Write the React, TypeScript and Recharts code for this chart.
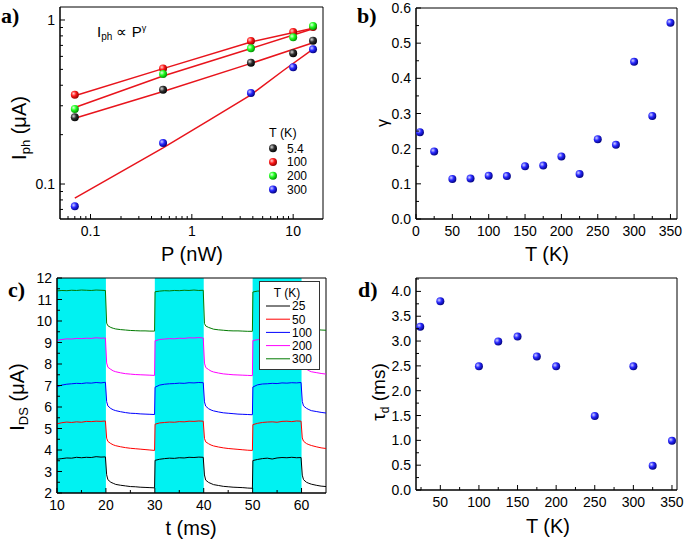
import React from "react";
import {
  ScatterChart, Scatter, LineChart, Line, XAxis, YAxis, ReferenceArea, Legend,
} from "recharts";

const FONT = "Arial, 'Liberation Sans', Helvetica, sans-serif";
const SERIF = "'Times New Roman', 'Liberation Serif', serif";

// ---- a) photocurrent vs laser power (log-log)
const powerNW = [0.07, 0.52, 3.83, 10, 15.7];
const iph5K = [0.255, 0.375, 0.549, 0.627, 0.748];
const iph100K = [0.35, 0.507, 0.745, 0.845, 0.905];
const iph200K = [0.287, 0.469, 0.672, 0.784, 0.919];
const iph300K = [0.0731, 0.178, 0.359, 0.515, 0.663];
const fitPower = [0.07, 0.52, 3.83, 15.7];
const fit5K = [0.252, 0.366, 0.544, 0.727];
const fit100K = [0.345, 0.505, 0.735, 0.89];
const fit200K = [0.293, 0.456, 0.67, 0.885];
const fitPower300 = [0.07, 0.52, 1.5, 3.83, 8, 15.7];
const fit300K = [0.082, 0.166, 0.246, 0.35, 0.492, 0.665];
const legendA = ["5.4", "100", "200", "300"];
const aTicksX = [0.06, 0.07, 0.08, 0.09, 0.1, 0.2, 0.3, 0.4, 0.5, 0.6, 0.7, 0.8, 0.9, 1, 2, 3, 4, 5, 6, 7, 8, 9, 10];
const aMajorX = [0.1, 1, 10];
const aTicksY = [0.07, 0.08, 0.09, 0.1, 0.2, 0.3, 0.4, 0.5, 0.6, 0.7, 0.8, 0.9, 1];
const aMajorY = [0.1, 1];

// ---- b) exponent gamma vs temperature
const tempB = [5.4, 25, 50, 75, 100, 125, 150, 175, 200, 225, 250, 275, 300, 325, 350];
const gammaB = [0.247, 0.192, 0.114, 0.115, 0.123, 0.122, 0.15, 0.152, 0.178, 0.128, 0.227, 0.211, 0.447, 0.293, 0.558];
const bTicksX = [0, 25, 50, 75, 100, 125, 150, 175, 200, 225, 250, 275, 300, 325, 350];
const bMajorX = [0, 50, 100, 150, 200, 250, 300, 350];
const bTicksY = [0, 0.05, 0.1, 0.15, 0.2, 0.25, 0.3, 0.35, 0.4, 0.45, 0.5, 0.55, 0.6];
const bMajorY = [0, 0.1, 0.2, 0.3, 0.4, 0.5, 0.6];

// ---- c) switching traces
const timeMs = [
  10, 11, 12, 13, 14, 15, 16, 17, 18, 19, 19.9,
  20.15, 20.4, 21, 21.5, 22, 23, 24, 25, 26, 27, 28, 29, 29.95,
  30.05, 31, 32, 33, 34, 35, 36, 37, 38, 39, 39.9,
  40.15, 40.4, 41, 41.5, 42, 43, 44, 45, 46, 47, 48, 49, 49.95,
  50.05, 51, 52, 53, 54, 55, 56, 57, 58, 59, 59.9,
  60.15, 60.4, 61, 61.5, 62, 63, 64, 65,
];
const ids25 = [
  3.57, 3.6, 3.63, 3.62, 3.66, 3.64, 3.66, 3.65, 3.69, 3.67, 3.68,
  2.85, 2.62, 2.5, 2.45, 2.4, 2.36, 2.33, 2.3, 2.29, 2.27, 2.26, 2.25, 2.24,
  3.52, 3.57, 3.6, 3.62, 3.61, 3.64, 3.63, 3.66, 3.65, 3.67, 3.66,
  2.84, 2.6, 2.49, 2.44, 2.39, 2.35, 2.31, 2.29, 2.27, 2.26, 2.25, 2.23, 2.22,
  3.51, 3.56, 3.6, 3.62, 3.58, 3.63, 3.65, 3.64, 3.66, 3.64, 3.65,
  2.83, 2.62, 2.5, 2.45, 2.41, 2.36, 2.32, 2.3,
];
const ids50 = [
  5.22, 5.27, 5.3, 5.28, 5.31, 5.29, 5.33, 5.32, 5.34, 5.33, 5.35,
  4.55, 4.4, 4.3, 4.24, 4.2, 4.15, 4.11, 4.08, 4.06, 4.04, 4.02, 4.0, 3.98,
  5.2, 5.26, 5.28, 5.3, 5.29, 5.32, 5.31, 5.34, 5.33, 5.35, 5.34,
  4.54, 4.38, 4.29, 4.23, 4.19, 4.14, 4.1, 4.07, 4.05, 4.03, 4.01, 3.99, 3.98,
  5.18, 5.24, 5.28, 5.3, 5.31, 5.29, 5.33, 5.34, 5.32, 5.35, 5.34,
  4.56, 4.41, 4.3, 4.25, 4.21, 4.15, 4.1, 4.07,
];
const ids100 = [
  6.95, 7.02, 7.06, 7.08, 7.1, 7.09, 7.12, 7.11, 7.14, 7.12, 7.15,
  6.25, 6.05, 5.93, 5.87, 5.83, 5.78, 5.74, 5.71, 5.7, 5.68, 5.67, 5.66, 5.65,
  6.92, 7.02, 7.06, 7.08, 7.09, 7.11, 7.1, 7.13, 7.12, 7.14, 7.13,
  6.24, 6.04, 5.92, 5.86, 5.82, 5.77, 5.73, 5.71, 5.69, 5.67, 5.66, 5.65, 5.64,
  6.93, 7.03, 7.07, 7.08, 7.1, 7.09, 7.12, 7.11, 7.13, 7.12, 7.14,
  6.26, 6.05, 5.94, 5.88, 5.83, 5.79, 5.75, 5.72,
];
const ids200 = [
  9.1, 9.14, 9.17, 9.16, 9.19, 9.18, 9.2, 9.19, 9.22, 9.2, 9.21,
  8.05, 7.85, 7.75, 7.68, 7.64, 7.59, 7.55, 7.53, 7.51, 7.5, 7.49, 7.48, 7.47,
  9.08, 9.14, 9.16, 9.18, 9.17, 9.2, 9.19, 9.22, 9.21, 9.23, 9.21,
  8.04, 7.84, 7.74, 7.67, 7.63, 7.58, 7.54, 7.52, 7.5, 7.49, 7.48, 7.47, 7.46,
  9.09, 9.13, 9.16, 9.17, 9.19, 9.18, 9.2, 9.19, 9.21, 9.2, 9.22,
  8.06, 7.86, 7.76, 7.69, 7.64, 7.6, 7.56, 7.53,
];
const ids300 = [
  11.4, 11.42, 11.41, 11.43, 11.42, 11.44, 11.43, 11.42, 11.44, 11.43, 11.42,
  9.9, 9.78, 9.7, 9.66, 9.63, 9.6, 9.58, 9.56, 9.55, 9.54, 9.54, 9.53, 9.53,
  11.36, 11.39, 11.41, 11.4, 11.42, 11.41, 11.43, 11.42, 11.44, 11.42, 11.43,
  9.89, 9.77, 9.7, 9.66, 9.62, 9.59, 9.57, 9.55, 9.54, 9.54, 9.53, 9.52, 9.52,
  11.35, 11.39, 11.4, 11.42, 11.41, 11.43, 11.42, 11.44, 11.43, 11.42, 11.43,
  9.9, 9.78, 9.71, 9.67, 9.64, 9.6, 9.58, 9.57,
];
const lightOn = [[10, 20], [30, 40], [50, 60]];
const legendC = ["25", "50", "100", "200", "300"];
const cTicksX = [10, 15, 20, 25, 30, 35, 40, 45, 50, 55, 60];
const cMajorX = [10, 20, 30, 40, 50, 60];
const cTicksY = [2, 2.5, 3, 3.5, 4, 4.5, 5, 5.5, 6, 6.5, 7, 7.5, 8, 8.5, 9, 9.5, 10, 10.5, 11, 11.5, 12];
const cMajorY = [2, 3, 4, 5, 6, 7, 8, 9, 10, 11, 12];

// ---- d) decay time vs temperature
const tempD = [24, 50, 100, 125, 150, 175, 200, 250, 300, 325, 350];
const tauD = [3.29, 3.8, 2.49, 2.99, 3.09, 2.69, 2.49, 1.49, 2.49, 0.49, 0.99];
const dTicksX = [25, 50, 75, 100, 125, 150, 175, 200, 225, 250, 275, 300, 325, 350];
const dMajorX = [50, 100, 150, 200, 250, 300, 350];
const dTicksY = [0, 0.25, 0.5, 0.75, 1, 1.25, 1.5, 1.75, 2, 2.25, 2.5, 2.75, 3, 3.25, 3.5, 3.75, 4, 4.25];
const dMajorY = [0, 0.5, 1, 1.5, 2, 2.5, 3, 3.5, 4];

const BALLS: Record<string, string[]> = {
  ballK: ["#d8d8d8", "#303030", "#000000"],
  ballR: ["#ffd0d0", "#ff1818", "#8a0000"],
  ballG: ["#e0ffe0", "#22ff22", "#008a00"],
  ballB: ["#d0d0ff", "#2828ff", "#000078"],
};
const aSeries = [
  { y: iph5K, ball: "ballK" },
  { y: iph100K, ball: "ballR" },
  { y: iph200K, ball: "ballG" },
  { y: iph300K, ball: "ballB" },
];
const cColors = ["#000000", "#ff0000", "#0000ff", "#ff00ff", "#007a00"];

const near = (list: number[], v: number) => list.some(m => Math.abs(m - v) < 1e-9);

const makeTick = (side: "bottom" | "left", majors: number[], fmt: (v: number) => string) =>
  (props: any) => {
    const { x, y, payload } = props;
    const v = payload.value;
    const major = near(majors, v);
    const len = major ? 5 : 3;
    if (side === "bottom") {
      return (
        <g>
          <line x1={x} y1={y} x2={x} y2={y - len} stroke="#000" />
          {major && (
            <text x={x} y={y + 17} textAnchor="middle" fontSize={14} fontFamily={FONT} fill="#000">
              {fmt(v)}
            </text>
          )}
        </g>
      );
    }
    return (
      <g>
        <line x1={x} y1={y} x2={x + len} y2={y} stroke="#000" />
        {major && (
          <text x={x - 5} y={y + 5} textAnchor="end" fontSize={14} fontFamily={FONT} fill="#000">
            {fmt(v)}
          </text>
        )}
      </g>
    );
  };

const ballShape = (id: string) => (props: any) => (
  <circle cx={props.cx} cy={props.cy} r={4} fill={`url(#${id})`} />
);
const noShape = () => <g />;

const XTitle = (props: any) => (
  <text x={props.tx} y={props.ty} textAnchor="middle" fontSize={20} fontFamily={FONT} fill="#000">
    {props.text}
  </text>
);

const PanelA = () => (
  <g fontFamily={FONT} fill="#000">
    <text x={1} y={23} fontFamily={SERIF} fontWeight="bold" fontSize={22}>a)</text>
    <text transform="rotate(-90 19 128)" x={19} y={135} textAnchor="middle" fontSize={20}>
      I<tspan fontSize={13} dy={4}>ph</tspan><tspan dy={-4}> (μA)</tspan>
    </text>
    <text x={97} y={37} fontSize={15}>
      I<tspan fontSize={10} dy={3}>ph</tspan><tspan dy={-3}> ∝ P</tspan>
      <tspan fontSize={9} dy={-6}>γ</tspan>
    </text>
  </g>
);
const PanelB = () => (
  <g fontFamily={FONT} fill="#000">
    <text x={12} y={23} fontFamily={SERIF} fontWeight="bold" fontSize={22}>b)</text>
    <text transform="rotate(-90 38 123)" x={38} y={128} textAnchor="middle" fontSize={16}>γ</text>
  </g>
);
const PanelC = () => (
  <g fontFamily={FONT} fill="#000">
    <text x={8} y={27} fontFamily={SERIF} fontWeight="bold" fontSize={22}>c)</text>
    <text transform="rotate(-90 17 127)" x={17} y={134} textAnchor="middle" fontSize={20}>
      I<tspan fontSize={13} dy={4}>DS</tspan><tspan dy={-4}> (μA)</tspan>
    </text>
  </g>
);
const PanelD = () => (
  <g fontFamily={FONT} fill="#000">
    <text x={13} y={27} fontFamily={SERIF} fontWeight="bold" fontSize={22}>d)</text>
    <text transform="rotate(-90 33 122)" x={33} y={129} textAnchor="middle" fontSize={19}>
      τ<tspan fontSize={12} dy={4}>d</tspan><tspan dy={-4}> (ms)</tspan>
    </text>
  </g>
);

const LegendA = () => (
  <svg width={60} height={75} style={{ display: "block" }}>
    <text x={7} y={13} fontSize={12.5} fontFamily={FONT}>T (K)</text>
    {legendA.map((name, i) => (
      <g key={name}>
        <circle cx={11} cy={24.3 + i * 13.7} r={4} fill={`url(#${aSeries[i].ball})`} />
        <text x={25} y={28.7 + i * 13.7} fontSize={12} fontFamily={FONT}>{name}</text>
      </g>
    ))}
  </svg>
);

const LegendC = () => (
  <svg width={59} height={87} style={{ display: "block" }}>
    <text x={27} y={15} textAnchor="middle" fontSize={12} fontFamily={FONT}>T (K)</text>
    {legendC.map((name, i) => (
      <g key={name}>
        <line x1={6} x2={30} y1={24 + i * 13.2} y2={24 + i * 13.2} stroke={cColors[i]} />
        <text x={32} y={28.3 + i * 13.2} fontSize={12} fontFamily={FONT}>{name}</text>
      </g>
    ))}
  </svg>
);

const toPts = (xs: number[], ys: number[], kx: string, ky: string) =>
  xs.map((x, i) => ({ [kx]: x, [ky]: ys[i] }));

const traceTable = timeMs.map((t, i) => ({
  t, k25: ids25[i], k50: ids50[i], k100: ids100[i], k200: ids200[i], k300: ids300[i],
}));
const traceKeys = ["k25", "k50", "k100", "k200", "k300"];

const A_X: [number, number] = [0.05, 19.7];
const A_Y: [number, number] = [0.0612, 1.2];
const B_X: [number, number] = [0, 359];
const B_Y: [number, number] = [0, 0.6];
const C_X: [number, number] = [10, 65];
const C_Y: [number, number] = [2, 12];
const D_X: [number, number] = [18.5, 356.5];
const D_Y: [number, number] = [0, 4.27];

const frame = (x: [number, number], y: [number, number]) => (
  <ReferenceArea x1={x[0]} x2={x[1]} y1={y[0]} y2={y[1]} fill="none" stroke="#000" strokeWidth={1} ifOverflow="visible" />
);

export default function App() {
  return (
    <div style={{ position: "absolute", left: 0, top: 0, width: 685, height: 543, background: "#fff", fontFamily: FONT }}>
      <svg width={0} height={0} style={{ position: "absolute" }}>
        <defs>
          {Object.entries(BALLS).map(([id, c]) => (
            <radialGradient key={id} id={id} cx="0.35" cy="0.35" r="0.7">
              <stop offset="0" stopColor={c[0]} />
              <stop offset="0.45" stopColor={c[1]} />
              <stop offset="1" stopColor={c[2]} />
            </radialGradient>
          ))}
        </defs>
      </svg>

      {/* a) */}
      <div style={{ position: "absolute", left: 0, top: 0 }}>
        <ScatterChart width={345} height={270} margin={{ top: 7, right: 22, bottom: 0, left: 0 }}>
          <XAxis type="number" dataKey="p" scale="log" domain={A_X} allowDataOverflow ticks={aTicksX}
            interval={0} tickSize={0} tickMargin={0} tickLine={false} axisLine={{ stroke: "#000" }} height={51}
            tick={makeTick("bottom", aMajorX, v => String(v))}
            label={<XTitle tx={192} ty={261} text="P (nW)" />} />
          <YAxis type="number" dataKey="i" scale="log" domain={A_Y} allowDataOverflow ticks={aTicksY}
            interval={0} tickSize={0} tickMargin={0} tickLine={false} axisLine={{ stroke: "#000" }} width={60}
            tick={makeTick("left", aMajorY, v => String(v))}
            label={<PanelA />} />
          <Scatter data={toPts(fitPower, fit5K, "p", "i")} line={{ stroke: "#e8141c", strokeWidth: 1.5 }} shape={noShape} legendType="none" isAnimationActive={false} />
          <Scatter data={toPts(fitPower, fit100K, "p", "i")} line={{ stroke: "#e8141c", strokeWidth: 1.5 }} shape={noShape} legendType="none" isAnimationActive={false} />
          <Scatter data={toPts(fitPower, fit200K, "p", "i")} line={{ stroke: "#e8141c", strokeWidth: 1.5 }} shape={noShape} legendType="none" isAnimationActive={false} />
          <Scatter data={toPts(fitPower300, fit300K, "p", "i")} line={{ stroke: "#e8141c", strokeWidth: 1.5 }} shape={noShape} legendType="none" isAnimationActive={false} />
          {aSeries.map((s, k) => (
            <Scatter key={k} name={legendA[k]} data={toPts(powerNW, s.y, "p", "i")} shape={ballShape(s.ball)} isAnimationActive={false} />
          ))}
          {frame(A_X, A_Y)}
          <Legend layout="vertical" align="center" verticalAlign="middle" content={() => <LegendA />}
            wrapperStyle={{ left: 262, top: 124, width: 60, height: 75 }} />
        </ScatterChart>
      </div>

      {/* b) */}
      <div style={{ position: "absolute", left: 345, top: 0 }}>
        <ScatterChart width={340} height={270} margin={{ top: 8, right: 8, bottom: 0, left: 0 }}>
          <XAxis type="number" dataKey="t" domain={B_X} allowDataOverflow ticks={bTicksX}
            interval={0} tickSize={0} tickMargin={0} tickLine={false} axisLine={{ stroke: "#000" }} height={51}
            tick={makeTick("bottom", bMajorX, v => String(v))}
            label={<XTitle tx={202} ty={261} text="T (K)" />} />
          <YAxis type="number" dataKey="g" domain={B_Y} allowDataOverflow ticks={bTicksY}
            interval={0} tickSize={0} tickMargin={0} tickLine={false} axisLine={{ stroke: "#000" }} width={71}
            tick={makeTick("left", bMajorY, v => v.toFixed(1))}
            label={<PanelB />} />
          <Scatter data={toPts(tempB, gammaB, "t", "g")} shape={ballShape("ballB")} isAnimationActive={false} />
          {frame(B_X, B_Y)}
        </ScatterChart>
      </div>

      {/* c) */}
      <div style={{ position: "absolute", left: 0, top: 270 }}>
        <LineChart width={345} height={273} data={traceTable} margin={{ top: 8, right: 19, bottom: 0, left: 0 }}>
          {lightOn.map(([a, b]) => (
            <ReferenceArea key={a} x1={a} x2={b} y1={C_Y[0]} y2={C_Y[1]} fill="#00f2f2" fillOpacity={1} stroke="none" />
          ))}
          <XAxis type="number" dataKey="t" domain={C_X} allowDataOverflow ticks={cTicksX}
            interval={0} tickSize={0} tickMargin={0} tickLine={false} axisLine={{ stroke: "#000" }} height={50}
            tick={makeTick("bottom", cMajorX, v => String(v))}
            label={<XTitle tx={191} ty={265} text="t (ms)" />} />
          <YAxis type="number" domain={C_Y} allowDataOverflow ticks={cTicksY}
            interval={0} tickSize={0} tickMargin={0} tickLine={false} axisLine={{ stroke: "#000" }} width={57}
            tick={makeTick("left", cMajorY, v => String(v))}
            label={<PanelC />} />
          {traceKeys.map((k, i) => (
            <Line key={k} dataKey={k} name={legendC[i]} stroke={cColors[i]} strokeWidth={1} dot={false}
              type="linear" isAnimationActive={false} />
          ))}
          {frame(C_X, C_Y)}
          <Legend layout="vertical" align="center" verticalAlign="middle" content={() => <LegendC />}
            wrapperStyle={{ left: 259, top: 11, width: 61, height: 89, border: "1px solid #333", background: "#fff", boxSizing: "border-box" }} />
        </LineChart>
      </div>

      {/* d) */}
      <div style={{ position: "absolute", left: 345, top: 270 }}>
        <ScatterChart width={340} height={273} margin={{ top: 8, right: 8, bottom: 0, left: 0 }}>
          <XAxis type="number" dataKey="t" domain={D_X} allowDataOverflow ticks={dTicksX}
            interval={0} tickSize={0} tickMargin={0} tickLine={false} axisLine={{ stroke: "#000" }} height={53}
            tick={makeTick("bottom", dMajorX, v => String(v))}
            label={<XTitle tx={203} ty={263} text="T (K)" />} />
          <YAxis type="number" dataKey="tau" domain={D_Y} allowDataOverflow ticks={dTicksY}
            interval={0} tickSize={0} tickMargin={0} tickLine={false} axisLine={{ stroke: "#000" }} width={71}
            tick={makeTick("left", dMajorY, v => v.toFixed(1))}
            label={<PanelD />} />
          <Scatter data={toPts(tempD, tauD, "t", "tau")} shape={ballShape("ballB")} isAnimationActive={false} />
          {frame(D_X, D_Y)}
        </ScatterChart>
      </div>
    </div>
  );
}
